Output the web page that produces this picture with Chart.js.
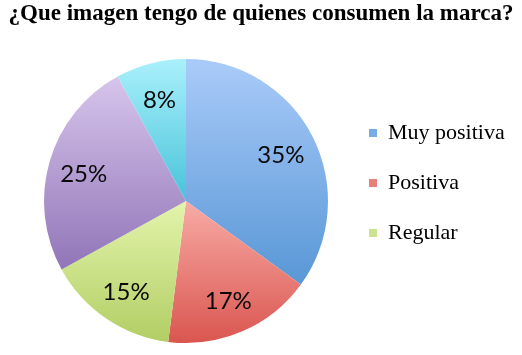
<!DOCTYPE html>
<html><head><meta charset="utf-8">
<script src="https://cdn.jsdelivr.net/npm/chart.js@4"></script>
<style>html,body{margin:0;padding:0;background:#fff}#wrap{width:522px;height:355px}</style>
</head><body><div id="wrap"><canvas id="c"></canvas></div>
<script>
const titleText = '¿Que imagen tengo de quienes consumen la marca?';
const categories = ['Muy positiva', 'Positiva', 'Regular', '', ''];
const values = [35, 17, 15, 25, 8];
const baseColors = ['#78ace6', '#e97f79', '#cde48e', '#b59ed3', '#7cdbec'];
const topColors = ['#aacbf9', '#f8aba5', '#e3f4ac', '#d7c5ec', '#aaf0fc'];
const bottomColors = ['#5897d6', '#da5650', '#b2ce64', '#9175b7', '#48c3d9'];

const serif = "'Liberation Serif', 'Times New Roman', serif";
const legendSize = 22;
const boxSize = 8;
const mctx = document.createElement('canvas').getContext('2d');
mctx.font = legendSize + "px 'Liberation Serif', serif";
const textW = Math.max(...categories.map(c => mctx.measureText(c).width));
const legendWidth = 150;
const itemGap = Math.max(1, legendWidth - boxSize - legendSize / 2 - 10 - textW);
const rowStep = 50;
const boxX = 369;
const sidePad = 372 + itemGap - boxX;

const gradientPlugin = {
  id: 'sliceGradient',
  beforeDatasetsDraw(chart) {
    const ctx = chart.ctx;
    const meta = chart.getDatasetMeta(0);
    meta.data.forEach((arc, i) => {
      const p = arc.getProps(['x', 'y', 'startAngle', 'endAngle', 'outerRadius'], true);
      const ys = [p.y, p.y + p.outerRadius * Math.sin(p.startAngle), p.y + p.outerRadius * Math.sin(p.endAngle)];
      [-Math.PI / 2, Math.PI / 2, 3 * Math.PI / 2].forEach(a => {
        if (a > p.startAngle && a < p.endAngle) ys.push(p.y + p.outerRadius * Math.sin(a));
      });
      const g = ctx.createLinearGradient(0, Math.min(...ys), 0, Math.max(...ys));
      g.addColorStop(0, topColors[i]);
      g.addColorStop(1, bottomColors[i]);
      arc.options.backgroundColor = g;
    });
  }
};

const labelPlugin = {
  id: 'sliceLabels',
  afterDatasetsDraw(chart) {
    const ctx = chart.ctx;
    const meta = chart.getDatasetMeta(0);
    const fs = 24;
    ctx.save();
    ctx.font = fs + 'px Lato, sans-serif';
    ctx.fillStyle = '#0a0a0a';
    ctx.textAlign = 'center';
    ctx.textBaseline = 'alphabetic';
    meta.data.forEach((arc, i) => {
      const p = arc.getProps(['x', 'y', 'startAngle', 'endAngle', 'outerRadius'], true);
      const mid = (p.startAngle + p.endAngle) / 2;
      const r = p.outerRadius * 0.75;
      ctx.fillText(values[i] + '%', p.x + Math.cos(mid) * r, p.y + Math.sin(mid) * r + 0.36 * fs + 2);
    });
    ctx.restore();
  }
};

new Chart(document.getElementById('c'), {
  type: 'pie',
  data: {
    labels: categories,
    datasets: [{
      data: values,
      backgroundColor: baseColors,
      borderWidth: 0,
      borderColor: 'rgba(0,0,0,0)',
      radius: 142
    }]
  },
  options: {
    responsive: true,
    maintainAspectRatio: false,
    animation: false,
    events: [],
    layout: { padding: { left: sidePad, right: sidePad, top: 0, bottom: 0 } },
    plugins: {
      tooltip: { enabled: false },
      title: {
        display: true,
        text: titleText,
        color: '#000',
        font: { family: serif, size: 23, weight: 'bold', lineHeight: 1.2 },
        padding: { top: 0, bottom: 19.4 }
      },
      legend: {
        position: 'right',
        align: 'center',
        title: { display: true, text: '', font: { size: 12, lineHeight: '0px' }, padding: { top: 38.8 - itemGap, bottom: 0 } },
        labels: {
          boxWidth: boxSize,
          boxHeight: boxSize,
          padding: itemGap,
          color: '#000',
          font: { family: serif, size: legendSize, lineHeight: (rowStep - itemGap) + 'px' },
          generateLabels(chart) {
            const ds = chart.data.datasets[0];
            return chart.data.labels.map((l, i) => ({
              text: [l], fillStyle: ds.backgroundColor[i], strokeStyle: 'rgba(0,0,0,0)',
              lineWidth: 0, hidden: false, index: i, fontColor: '#000'
            })).filter(it => it.text[0] !== '');
          }
        }
      }
    }
  },
  plugins: [gradientPlugin, labelPlugin]
});
</script>
</body></html>
